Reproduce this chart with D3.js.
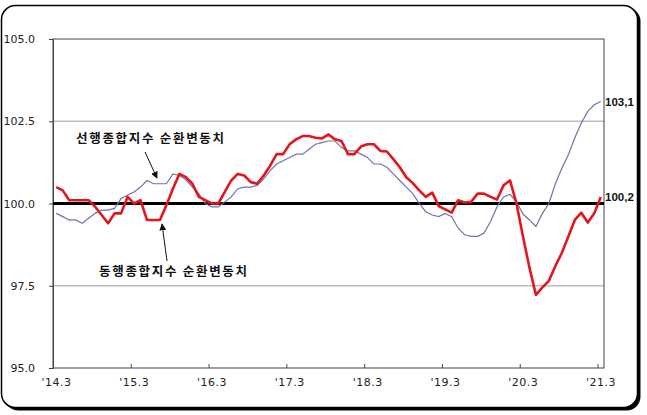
<!DOCTYPE html>
<html>
<head>
<meta charset="utf-8">
<script src="https://cdn.jsdelivr.net/npm/d3@7"></script>
<style>
  body { margin: 0; background: #fff; }
  svg { display: block; }
</style>
</head>
<body>
<svg id="chart" width="647" height="415"></svg>
<script>
// months from '14.3 to '21.3 (85 monthly points)
const months = [];
for (let y = 2014; y <= 2021; y++) {
  for (let m = 1; m <= 12; m++) {
    if ((y == 2014 && m < 3) || (y == 2021 && m > 3)) continue;
    months.push(y + "." + m);
  }
}

const tickMonths = ["2014.3", "2015.3", "2016.3", "2017.3", "2018.3", "2019.3", "2020.3", "2021.3"];
const tickLabels = ["'14.3", "'15.3", "'16.3", "'17.3", "'18.3", "'19.3", "'20.3", "'21.3"];
const yTicks = [95, 97.5, 100, 102.5, 105];

// 선행종합지수 순환변동치 (leading index, cyclical component)
const leading = [
  99.7, 99.6, 99.5, 99.5, 99.4, 99.55, 99.7, 99.8, 99.8, 99.85,
  100.15, 100.25, 100.35, 100.5, 100.7, 100.6, 100.6, 100.6, 100.9, 100.85,
  100.72, 100.5, 100.3, 100.0, 99.9, 99.9, 100.05, 100.2, 100.45, 100.5,
  100.5, 100.55, 100.75, 101.0, 101.2, 101.3, 101.4, 101.5, 101.5, 101.65,
  101.8, 101.85, 101.9, 101.9, 101.7, 101.6, 101.6, 101.5, 101.4, 101.2,
  101.2, 101.1, 100.9, 100.7, 100.5, 100.3, 100.0, 99.75, 99.65, 99.6,
  99.7, 99.6, 99.25, 99.05, 99.0, 99.0, 99.1, 99.45, 99.9, 100.2,
  100.28, 100.05, 99.68, 99.5, 99.3, 99.7, 100.0, 100.6, 101.07, 101.48,
  102.0, 102.45, 102.8, 103.0, 103.1
];

// 동행종합지수 순환변동치 (coincident index, cyclical component)
const coincident = [
  100.5, 100.4, 100.1, 100.1, 100.1, 100.1, 99.9, 99.65, 99.4, 99.7,
  99.7, 100.2, 100.0, 100.1, 99.5, 99.5, 99.5, 99.95, 100.45, 100.9,
  100.8, 100.6, 100.2, 100.1, 100.0, 100.0, 100.35, 100.7, 100.9, 100.85,
  100.65, 100.6, 100.85, 101.15, 101.5, 101.5, 101.8, 101.95, 102.05, 102.05,
  102.0, 101.98, 102.1, 101.95, 101.9, 101.5, 101.5, 101.73, 101.8, 101.8,
  101.6, 101.58, 101.35, 101.1, 100.8, 100.62, 100.4, 100.2, 100.33, 99.92,
  99.82, 99.72, 100.1, 100.03, 100.05, 100.3, 100.3, 100.2, 100.12, 100.55,
  100.7, 100.0, 99.0, 98.05, 97.22, 97.45, 97.65, 98.1, 98.5, 99.0,
  99.5, 99.72, 99.42, 99.7, 100.2
];

const endLabels = ["103,1", "100,2"];
const leadText = "선행종합지수 순환변동치";
const coinText = "동행종합지수 순환변동치";

const svg = d3.select("#chart");
const plot = {left: 53, right: 604, top: 39, bottom: 368};

// frame with drop shadow
svg.append("rect")
  .attr("x", 4.5).attr("y", 7.5)
  .attr("width", 636).attr("height", 403)
  .attr("rx", 14)
  .attr("fill", "#000");
svg.append("rect")
  .attr("x", 1.5).attr("y", 5.5)
  .attr("width", 636).attr("height", 402)
  .attr("rx", 14)
  .attr("fill", "#fff")
  .attr("stroke", "#000")
  .attr("stroke-width", 1.5);

var x = d3.scaleBand().domain(months).range([plot.left, plot.right]).paddingInner(0).paddingOuter(0);
var y = d3.scaleLinear().domain([95, 105]).range([plot.bottom, plot.top]);
const cx = (m) => x(m) + x.bandwidth() / 2;

// grid lines
svg.append("g")
  .selectAll("line")
  .data([97.5, 102.5])
  .enter()
  .append("line")
  .attr("x1", plot.left).attr("x2", plot.right)
  .attr("y1", (d) => y(d)).attr("y2", (d) => y(d))
  .attr("stroke", "#bdbdbd")
  .attr("stroke-width", 1.5);

// y axis
var yAxis = svg.append("g")
  .attr("transform", "translate(" + plot.left + ",0)")
  .call(d3.axisLeft(y).tickValues(yTicks).tickSize(4).tickPadding(14).tickFormat(d3.format(".1f")));
yAxis.select(".domain").attr("stroke", "#444");
yAxis.selectAll(".tick line").attr("stroke", "#444");
yAxis.selectAll("text")
  .attr("font-family", "DejaVu Sans, sans-serif")
  .attr("font-size", 11)
  .attr("fill", "#222");

// x axis (ticks at start of each March)
var xAxis = svg.append("g")
  .attr("transform", "translate(0," + plot.bottom + ")")
  .call(d3.axisBottom(d3.scaleOrdinal().domain(tickMonths).range(tickMonths.map((m) => x(m))))
    .tickSize(-4).tickPadding(10).tickFormat((d, i) => tickLabels[i]));
xAxis.select(".domain").remove();
xAxis.selectAll(".tick line").attr("stroke", "#444");
xAxis.selectAll("text")
  .attr("dx", 3)
  .attr("font-family", "DejaVu Sans, sans-serif")
  .attr("font-size", 11)
  .attr("letter-spacing", 0.5)
  .attr("fill", "#222");

// plot border
svg.append("rect")
  .attr("x", plot.left).attr("y", plot.top)
  .attr("width", plot.right - plot.left).attr("height", plot.bottom - plot.top)
  .attr("fill", "none")
  .attr("stroke", "#444")
  .attr("stroke-width", 1);

// 100 base line
svg.append("line")
  .attr("x1", plot.left).attr("x2", plot.right)
  .attr("y1", y(100)).attr("y2", y(100))
  .attr("stroke", "#000")
  .attr("stroke-width", 3);

var line = d3.line()
  .x((d, i) => cx(months[i]))
  .y((d) => y(d));

svg.append("path")
  .datum(leading)
  .attr("d", line)
  .attr("fill", "none")
  .attr("stroke", "#7073a8")
  .attr("stroke-width", 1.2);

svg.append("path")
  .datum(coincident)
  .attr("d", line)
  .attr("fill", "none")
  .attr("stroke", "#e3161e")
  .attr("stroke-width", 2.6)
  .attr("stroke-linejoin", "round");

// end value labels
svg.selectAll(".endlabel")
  .data([leading[leading.length - 1], coincident[coincident.length - 1]])
  .enter()
  .append("text")
  .attr("x", plot.right + 1)
  .attr("y", (d) => y(d) + 4)
  .attr("font-family", "Liberation Sans, Arial, sans-serif")
  .attr("font-size", 11.5)
  .attr("font-weight", "bold")
  .attr("fill", "#111")
  .text((d, i) => endLabels[i]);

// annotations with arrows
svg.append("defs").append("marker")
  .attr("id", "arrow")
  .attr("viewBox", "0 0 10 10")
  .attr("refX", 9).attr("refY", 5)
  .attr("markerWidth", 7).attr("markerHeight", 7)
  .attr("markerUnits", "userSpaceOnUse")
  .attr("orient", "auto")
  .append("path")
  .attr("d", "M0,0 L10,5 L0,10 z")
  .attr("fill", "#111");

const notes = [
  {text: leadText, tx: 76, ty: 143, from: [145, 152], to: [157, 178]},
  {text: coinText, tx: 99, ty: 276, from: [167, 261], to: [162, 224]}
];

svg.selectAll(".note")
  .data(notes)
  .enter()
  .append("text")
  .attr("x", (d) => d.tx)
  .attr("y", (d) => d.ty)
  .attr("font-family", "Noto Sans CJK KR, sans-serif")
  .attr("font-size", 12.5)
  .attr("font-weight", "bold")
  .attr("letter-spacing", 1.7)
  .attr("fill", "#111")
  .text((d) => d.text);

svg.selectAll(".arrow")
  .data(notes)
  .enter()
  .append("line")
  .attr("x1", (d) => d.from[0]).attr("y1", (d) => d.from[1])
  .attr("x2", (d) => d.to[0]).attr("y2", (d) => d.to[1])
  .attr("stroke", "#111")
  .attr("stroke-width", 1)
  .attr("marker-end", "url(#arrow)");
</script>
</body>
</html>
